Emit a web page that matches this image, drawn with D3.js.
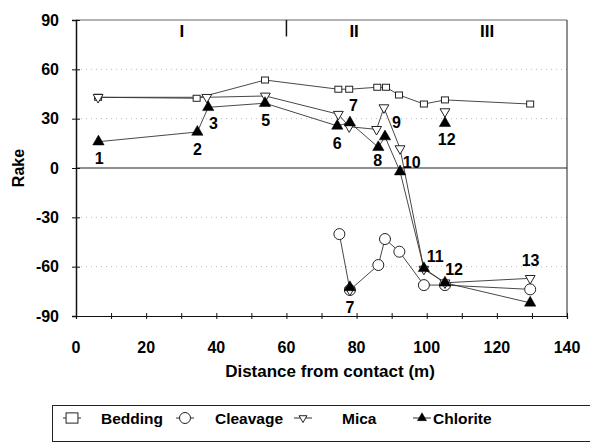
<!DOCTYPE html>
<html>
<head>
<meta charset="utf-8">
<script src="https://d3js.org/d3.v7.min.js"></script>
<style>
  body { margin: 0; background: #fff; }
  text { font-family: "Liberation Sans", Arial, sans-serif; }
</style>
</head>
<body>
<svg id="chart"></svg>
<script>
  // rake vs distance
  var beddingX = [6.3, 34.4, 53.9, 74.8, 77.9, 85.9, 88.4, 92.1, 99.2, 105.2, 129.5];
  var beddingY = [43, 42.4, 53.5, 47.9, 47.9, 49.1, 49.1, 44.4, 38.9, 41.4, 38.9];

  var cleavageX = [75.1, 78.1, 86.2, 88.1, 92.2, 99.2, 105.2, 129.5];
  var cleavageY = [-40.2, -74.2, -59, -43.2, -50.9, -71.2, -71.2, -73.8];

  var micaX = [6.3, 37.3, 54, 74.8, 77.9, 85.7, 87.8, 92.4, 99.2, 105.2, 129.5];
  var micaY = [43, 43, 43.8, 32.7, 25.1, 23.5, 36.7, 11.8, -61.5, -69.8, -67.1];
  // stray mica points not on the line
  var micaExtraX = [105.2, 78.1];
  var micaExtraY = [34.3, -74.2];

  var chloriteX = [6.4, 34.6, 37.7, 53.9, 74.5, 78.1, 86.2, 88.1, 92.4, 99.2, 105.2, 129.5];
  var chloriteY = [16, 21.9, 36.9, 39.4, 25.6, 27.6, 12.6, 19.1, -2.2, -61, -69.8, -82];
  var chloriteExtraX = [105.2, 78.1];
  var chloriteExtraY = [27.2, -72.6];

  // sample number labels (data coords)
  var labelText = ["1", "2", "3", "5", "6", "7", "8", "9", "10", "12", "11", "12", "13", "7"];
  var labelX = [6.6, 34.6, 39.2, 54.1, 74.5, 79.1, 86.0, 91.4, 95.7, 105.7, 102.4, 107.8, 129.6, 78.1];
  var labelY = [5.9, 11.4, 27.6, 29.2, 15.4, 38.3, 4.9, 28.2, 3.8, 17.5, -53.5, -61.6, -56.0, -84.8];

  var zoneText = ["I", "II", "III"];
  var zoneX = [30.2, 79.3, 117.2];

  var xTicks = [0, 20, 40, 60, 80, 100, 120, 140];
  var yTicks = [-90, -60, -30, 0, 30, 60, 90];

  var width = 590, height = 444;
  var svg = d3.select('#chart').attr('width', width).attr('height', height);

  var x = d3.scaleLinear().domain([0, 140]).range([76, 567]);
  var y = d3.scaleLinear().domain([-90, 90]).range([316, 20]);

  var lineCol = '#333';

  // dotted gridlines
  svg.selectAll('.grid')
    .data([-60, -30, 30, 60])
    .enter().append('line')
    .attr('x1', x(0)).attr('x2', x(140))
    .attr('y1', function(d) { return y(d); })
    .attr('y2', function(d) { return y(d); })
    .attr('stroke', '#aaa').attr('stroke-width', 0.8)
    .attr('stroke-dasharray', '1,4');

  // frame: top and right
  svg.append('line').attr('x1', x(0)).attr('x2', x(140)).attr('y1', y(90)).attr('y2', y(90))
    .attr('stroke', '#666').attr('stroke-width', 1);
  svg.append('line').attr('x1', x(140)).attr('x2', x(140)).attr('y1', y(90)).attr('y2', y(-90))
    .attr('stroke', '#222').attr('stroke-width', 1);

  // zero line
  svg.append('line').attr('x1', x(0)).attr('x2', x(140)).attr('y1', y(0)).attr('y2', y(0))
    .attr('stroke', '#222').attr('stroke-width', 1.2);

  // zone separator
  svg.append('line').attr('x1', x(60)).attr('x2', x(60)).attr('y1', y(90)).attr('y2', y(80))
    .attr('stroke', '#111').attr('stroke-width', 1.5);

  // axes
  var xAxis = d3.axisBottom(x).tickValues(d3.range(0, 141, 10)).tickSize(3).tickFormat('');
  var gx = svg.append('g').attr('transform', 'translate(0,' + y(-90) + ')').call(xAxis);
  gx.selectAll('.tick line').attr('y1', -3).attr('stroke', '#111');
  gx.select('.domain').attr('stroke', '#111').attr('stroke-width', 1.2);

  var yAxis = d3.axisLeft(y).tickValues(yTicks).tickSize(4).tickFormat('');
  var gy = svg.append('g').attr('transform', 'translate(' + x(0) + ',0)').call(yAxis);
  gy.selectAll('.tick line').attr('x1', 4).attr('x2', -4).attr('stroke', '#111');
  gy.select('.domain').attr('stroke', '#111').attr('stroke-width', 1.5);

  svg.selectAll('.xlab')
    .data(xTicks)
    .enter().append('text')
    .attr('x', function(d) { return x(d); })
    .attr('y', 353)
    .attr('text-anchor', 'middle')
    .attr('font-size', 16).attr('font-weight', 'bold')
    .text(function(d) { return d; });

  svg.selectAll('.ylab')
    .data(yTicks)
    .enter().append('text')
    .attr('x', 59)
    .attr('y', function(d) { return y(d) + 5.5; })
    .attr('text-anchor', 'end')
    .attr('font-size', 16).attr('font-weight', 'bold')
    .text(function(d) { return d; });

  svg.append('text')
    .attr('x', 330).attr('y', 377)
    .attr('text-anchor', 'middle')
    .attr('font-size', 17)
    .attr('font-weight', 'bold')
    .text('Distance from contact (m)');

  svg.append('text')
    .attr('transform', 'translate(24,' + y(0) + ') rotate(-90)')
    .attr('text-anchor', 'middle')
    .attr('font-size', 16).attr('font-weight', 'bold')
    .text('Rake');

  // zone labels
  svg.selectAll('.zone')
    .data(zoneText)
    .enter().append('text')
    .attr('x', function(d, i) { return x(zoneX[i]); })
    .attr('y', 37)
    .attr('text-anchor', 'middle')
    .attr('font-size', 17).attr('font-weight', 'bold')
    .text(function(d) { return d; });

  function pts(xs, ys) { return xs.map(function(d, i) { return [d, ys[i]]; }); }

  var line = d3.line().x(function(d) { return x(d[0]); }).y(function(d) { return y(d[1]); });

  var series = [
    { data: pts(beddingX, beddingY), extra: [] , shape: 'square' },
    { data: pts(cleavageX, cleavageY), extra: [], shape: 'circle' },
    { data: pts(micaX, micaY), extra: pts(micaExtraX, micaExtraY), shape: 'down' },
    { data: pts(chloriteX, chloriteY), extra: pts(chloriteExtraX, chloriteExtraY), shape: 'up' }
  ];

  series.forEach(function(s) {
    svg.append('path')
      .attr('d', line(s.data))
      .attr('fill', 'none')
      .attr('stroke', lineCol)
      .attr('stroke-width', 0.9);
  });

  function drawMarker(g, shape, cx, cy, scale) {
    scale = scale || 1;
    if (shape === 'square') {
      g.append('rect')
        .attr('x', cx - 3.5 * scale).attr('y', cy - 3 * scale)
        .attr('width', 7 * scale).attr('height', 6 * scale)
        .attr('fill', '#fff').attr('stroke', '#222').attr('stroke-width', 1);
    } else if (shape === 'circle') {
      g.append('circle')
        .attr('cx', cx).attr('cy', cy).attr('r', 5.5 * scale)
        .attr('fill', '#fff').attr('stroke', '#222').attr('stroke-width', 1);
    } else if (shape === 'down') {
      g.append('path')
        .attr('d', d3.symbol().type(d3.symbolTriangle).size(42 * scale * scale)())
        .attr('transform', 'translate(' + cx + ',' + cy + ') rotate(180)')
        .attr('fill', '#fff').attr('stroke', '#222').attr('stroke-width', 1);
    } else {
      g.append('path')
        .attr('d', d3.symbol().type(d3.symbolTriangle).size(56 * scale * scale)())
        .attr('transform', 'translate(' + cx + ',' + cy + ')')
        .attr('fill', '#000').attr('stroke', '#000').attr('stroke-width', 0.5);
    }
  }

  series.forEach(function(s) {
    var g = svg.append('g');
    s.data.concat(s.extra).forEach(function(p) {
      drawMarker(g, s.shape, x(p[0]), y(p[1]));
    });
  });

  // sample labels
  svg.selectAll('.num')
    .data(labelText)
    .enter().append('text')
    .attr('x', function(d, i) { return x(labelX[i]); })
    .attr('y', function(d, i) { return y(labelY[i]) + 6; })
    .attr('text-anchor', 'middle')
    .attr('font-size', 16).attr('font-weight', 'bold')
    .text(function(d) { return d; });

  // legend
  var leg = svg.append('g');
  leg.append('rect')
    .attr('x', 52.5).attr('y', 405.5).attr('width', 560).attr('height', 36)
    .attr('fill', '#fff').attr('stroke', '#222').attr('stroke-width', 1);

  var legNames = ['Bedding', 'Cleavage', 'Mica', 'Chlorite'];
  var legShapes = ['square', 'circle', 'down', 'up'];
  var legIconX = [72, 185, 303, 422];
  var legTextX = [101, 215, 342, 433];
  var legIconScale = [1.7, 1.0, 0.8, 0.8];
  legNames.forEach(function(n, i) {
    leg.append('line')
      .attr('x1', legIconX[i] - 9).attr('x2', legIconX[i] + 9)
      .attr('y1', 418).attr('y2', 418)
      .attr('stroke', lineCol).attr('stroke-width', 1);
    drawMarker(leg, legShapes[i], legIconX[i], 418, legIconScale[i]);
    leg.append('text')
      .attr('x', legTextX[i]).attr('y', 423.5)
      .attr('font-size', 15.5).attr('font-weight', 'bold')
      .text(n);
  });
</script>
</body>
</html>
